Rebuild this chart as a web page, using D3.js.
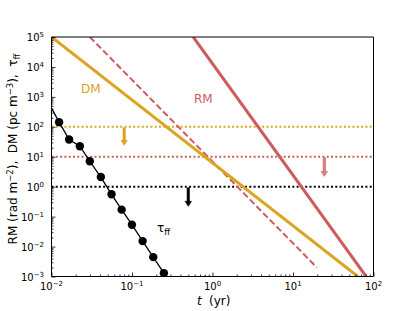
<!DOCTYPE html>
<html>
<head>
<meta charset="utf-8">
<script src="https://cdn.jsdelivr.net/npm/d3@7"></script>
<style>
  body { margin: 0; background: #fff; }
  svg { display: block; }
  text { font-family: "DejaVu Sans", sans-serif; }
</style>
</head>
<body>
<svg id="chart" width="415" height="311"></svg>
<script>
// lines (t in yr, value)
const dmT = [0.01, 64];
const dmV = [1e5, 1e-3];
const rmT = [0.577, 81];
const rmV = [1e5, 1e-3];
const rmDashT = [0.0299, 19.8];
const rmDashV = [1e5, 0.002];

// tau_ff samples
const tauT = [0.01243, 0.01655, 0.0225, 0.0299, 0.041, 0.0557, 0.0743, 0.0998, 0.1355, 0.1837, 0.249];
const tauV = [143, 37.7, 22.5, 7.07, 2.1, 0.556, 0.171, 0.0537, 0.0152, 0.00443, 0.00129];
const tauLineT = [0.01, 0.01243, 0.01655, 0.0225, 0.0299, 0.041, 0.0557, 0.0743, 0.0998, 0.1355, 0.1837, 0.249];
const tauLineV = [420, 143, 37.7, 22.5, 7.07, 2.1, 0.556, 0.171, 0.0537, 0.0152, 0.00443, 0.00129];

// horizontal limits and upper-limit arrows
const limits = [100, 10, 1];
const arrowT = [0.08, 24.5, 0.5];
const arrowTop = [100, 10, 1];
const arrowEnd = [24, 2.2, 0.22];

const xTickExp = [-2, -1, 0, 1, 2];
const yTickExp = [-3, -2, -1, 0, 1, 2, 3, 4, 5];

const gold = '#daa520';
const red = '#cd5c5c';
const limitColors = [gold, red, '#000'];

const svg = d3.select('#chart');
const pLeft = 51.5, pRight = 373.5, pTop = 37, pBottom = 276.5;

const x = d3.scaleLog().domain([0.01, 100]).range([pLeft, pRight]);
const y = d3.scaleLog().domain([1e-3, 1e5]).range([pBottom, pTop]);

svg.append('defs').append('clipPath').attr('id', 'clip')
  .append('rect').attr('x', pLeft).attr('y', pTop)
  .attr('width', pRight - pLeft).attr('height', pBottom - pTop);

const plot = svg.append('g').attr('clip-path', 'url(#clip)');
const line = d3.line().x(d => x(d[0])).y(d => y(d[1]));
const zip = (a, b) => a.map((v, i) => [v, b[i]]);

// dotted limit lines
limits.forEach((v, i) => {
  plot.append('line')
    .attr('x1', pLeft).attr('x2', pRight)
    .attr('y1', y(v)).attr('y2', y(v))
    .attr('stroke', limitColors[i])
    .attr('stroke-width', 2)
    .attr('stroke-dasharray', '2,2.3');
});

plot.append('path').datum(zip(rmDashT, rmDashV))
  .attr('d', line).attr('fill', 'none')
  .attr('stroke', red).attr('stroke-width', 2)
  .attr('stroke-dasharray', '6.5,3');

plot.append('path').datum(zip(dmT, dmV))
  .attr('d', line).attr('fill', 'none')
  .attr('stroke', gold).attr('stroke-width', 3);

plot.append('path').datum(zip(rmT, rmV))
  .attr('d', line).attr('fill', 'none')
  .attr('stroke', red).attr('stroke-width', 3);

plot.append('path').datum(zip(tauLineT, tauLineV))
  .attr('d', line).attr('fill', 'none')
  .attr('stroke', '#000').attr('stroke-width', 1.3);

plot.selectAll('circle.tau')
  .data(zip(tauT, tauV))
  .enter()
  .append('circle')
  .attr('cx', d => x(d[0]))
  .attr('cy', d => y(d[1]))
  .attr('r', 4.2)
  .attr('fill', '#000');

// arrows
arrowT.forEach((t, i) => {
  const cx = x(t), y0 = y(arrowTop[i]) + 1, y1 = y(arrowEnd[i]);
  const hw = 1.2, hh = 3.2, hl = 5;
  const pts = [
    [cx - hw, y0], [cx + hw, y0], [cx + hw, y1 - hl], [cx + hh, y1 - hl],
    [cx, y1], [cx - hh, y1 - hl], [cx - hw, y1 - hl]
  ];
  svg.append('polygon')
    .attr('points', pts.map(p => p.join(',')).join(' '))
    .attr('fill', limitColors[i])
    .attr('fill-opacity', i === 1 ? 0.75 : 1)
    .attr('stroke', limitColors[i])
    .attr('stroke-width', 0.6);
});

// ticks
function minors(lo, hi) {
  const out = [];
  for (let e = lo; e < hi; e++) for (let k = 2; k <= 9; k++) out.push(k * Math.pow(10, e));
  return out;
}

svg.append('g').attr('transform', `translate(0,${pBottom})`)
  .call(d3.axisBottom(x).tickValues(minors(-2, 2)).tickSize(-2).tickFormat(''))
  .call(g => g.select('.domain').remove());
svg.append('g').attr('transform', `translate(0,${pBottom})`)
  .call(d3.axisBottom(x).tickValues(xTickExp.map(e => Math.pow(10, e))).tickSize(-4).tickFormat(''))
  .call(g => g.select('.domain').remove());
svg.append('g').attr('transform', `translate(${pLeft},0)`)
  .call(d3.axisLeft(y).tickValues(minors(-3, 5)).tickSize(-2).tickFormat(''))
  .call(g => g.select('.domain').remove());
svg.append('g').attr('transform', `translate(${pLeft},0)`)
  .call(d3.axisLeft(y).tickValues(yTickExp.map(e => Math.pow(10, e))).tickSize(-4).tickFormat(''))
  .call(g => g.select('.domain').remove());
svg.selectAll('.tick line').attr('stroke', '#000').attr('stroke-width', 0.8);

const expStr = e => (e < 0 ? '\u2212' : '') + Math.abs(e);

xTickExp.forEach(e => {
  const t = svg.append('text')
    .attr('x', x(Math.pow(10, e))).attr('y', 290)
    .attr('text-anchor', 'middle').attr('font-size', 10);
  t.append('tspan').text('10');
  t.append('tspan').attr('font-size', 7).attr('dy', -4).text(expStr(e));
});

yTickExp.forEach(e => {
  const t = svg.append('text')
    .attr('x', 44).attr('y', y(Math.pow(10, e)) + 4)
    .attr('text-anchor', 'end').attr('font-size', 10);
  t.append('tspan').text('10');
  t.append('tspan').attr('font-size', 7).attr('dy', -4).text(expStr(e));
});

// spines
svg.append('line').attr('x1', pLeft).attr('x2', pRight).attr('y1', pTop).attr('y2', pTop)
  .attr('stroke', '#000').attr('stroke-width', 1);
svg.append('line').attr('x1', pLeft).attr('x2', pRight).attr('y1', pBottom).attr('y2', pBottom)
  .attr('stroke', '#000').attr('stroke-width', 1);
svg.append('line').attr('x1', pLeft).attr('x2', pLeft).attr('y1', pTop).attr('y2', pBottom)
  .attr('stroke', '#000').attr('stroke-width', 1);
svg.append('line').attr('x1', pRight).attr('x2', pRight).attr('y1', pTop).attr('y2', pBottom)
  .attr('stroke', '#000').attr('stroke-width', 1);

// annotations
svg.append('text').attr('x', 81).attr('y', 93).attr('font-size', 12)
  .attr('fill', gold).text('DM');
svg.append('text').attr('x', 194).attr('y', 103).attr('font-size', 12)
  .attr('fill', red).text('RM');
const tl = svg.append('text').attr('x', 157).attr('y', 232).attr('font-size', 12);
tl.append('tspan').text('\u03c4');
tl.append('tspan').attr('font-size', 8.5).attr('dy', 3).text('ff');

// axis labels
svg.append('text').attr('x', 197).attr('y', 305)
  .attr('font-size', 12).attr('font-style', 'italic').text('t');
svg.append('text').attr('x', 209).attr('y', 305)
  .attr('font-size', 12).text('(yr)');

const yl = svg.append('text')
  .attr('transform', 'translate(17,149) rotate(-90)')
  .attr('text-anchor', 'middle').attr('font-size', 12);
yl.append('tspan').text('RM (rad m');
yl.append('tspan').attr('font-size', 8.5).attr('dy', -4).text('\u22122');
yl.append('tspan').attr('dy', 4).text('),\u00a0\u00a0DM (pc m');
yl.append('tspan').attr('font-size', 8.5).attr('dy', -4).text('\u22123');
yl.append('tspan').attr('dy', 4).text('),\u00a0\u00a0\u03c4');
yl.append('tspan').attr('font-size', 8.5).attr('dy', 3).text('ff');
</script>
</body>
</html>
